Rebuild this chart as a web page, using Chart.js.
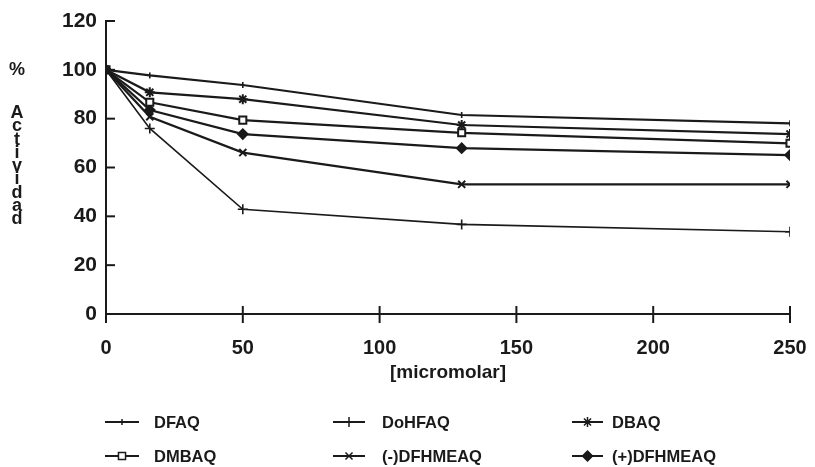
<!DOCTYPE html>
<html>
<head>
<meta charset="utf-8">
<script src="https://cdn.jsdelivr.net/npm/chart.js@4.4.0/dist/chart.umd.min.js"></script>
<style>
    html, body { margin: 0; padding: 0; background: #fff; }
    #wrap { width: 815px; height: 467px; position: relative; }
</style>
</head>
<body>
<div id="wrap"><canvas id="actividadChart"></canvas></div>
<script>
// % Actividad vs [micromolar]

const concentrations = [0, 16, 50, 130, 250];
const dfaq = [100, 97.7, 93.8, 81.5, 78.1];
const dohfaq = [100, 76.0, 42.9, 36.7, 33.7];
const dbaq = [100, 90.8, 88.0, 77.4, 73.7];
const dmbaq = [100, 86.7, 79.4, 74.2, 69.9];
const minusDfhmeaq = [100, 80.8, 66.1, 53.1, 53.1];
const plusDfhmeaq = [100, 83.5, 73.7, 67.9, 65.1];

const seriesNames = ['DFAQ', 'DoHFAQ', 'DBAQ', 'DMBAQ', '(-)DFHMEAQ', '(+)DFHMEAQ'];
const xTicks = [0, 50, 100, 150, 200, 250];
const yTicks = [0, 20, 40, 60, 80, 100, 120];

(function() {
    'use strict';

    const ink = '#1a1a1a';
    const fontFamily = '"Liberation Sans", Arial, Helvetica, sans-serif';

    function toPoints(values) {
        return values.map((v, i) => ({ x: concentrations[i], y: v }));
    }

    function series(label, values, style) {
        return Object.assign({
            label: label,
            data: toPoints(values),
            borderColor: ink,
            backgroundColor: ink,
            borderWidth: 2.2,
            pointBorderColor: ink,
            pointBackgroundColor: ink,
            pointBorderWidth: 1.6,
            pointRadius: 5,
            tension: 0,
            fill: false
        }, style);
    }

    const datasets = [
        series(seriesNames[0], dfaq, { pointStyle: 'line', rotation: 90, pointRadius: 3 }),
        series(seriesNames[1], dohfaq, { pointStyle: 'cross', borderWidth: 1.6, pointRadius: 5 }),
        series(seriesNames[2], dbaq, { pointStyle: 'star', pointRadius: 5, pointBorderWidth: 2 }),
        series(seriesNames[3], dmbaq, { pointStyle: 'rect', pointRadius: 5, pointBackgroundColor: '#fff', pointBorderWidth: 2 }),
        series(seriesNames[4], minusDfhmeaq, { pointStyle: 'crossRot', pointRadius: 5, pointBorderWidth: 2 }),
        series(seriesNames[5], plusDfhmeaq, { pointStyle: 'rectRot', pointRadius: 5 })
    ];

    // Legend layout: 3 columns x 2 rows under the axis
    const legendCols = [{ sx: 105, ex: 139, tx: 154 }, { sx: 333, ex: 365, tx: 382 }, { sx: 572, ex: 603, tx: 612 }];
    const legendRows = [422, 456];

    const decorPlugin = {
        id: 'decor',
        afterDraw(chart) {
            const ctx = chart.ctx;
            const xs = chart.scales.x;
            const ys = chart.scales.y;
            ctx.save();
            ctx.strokeStyle = ink;
            ctx.fillStyle = ink;
            ctx.lineWidth = 2;

            // y ticks point into the plot
            ys.ticks.forEach(t => {
                const py = ys.getPixelForValue(t.value);
                ctx.beginPath();
                ctx.moveTo(xs.left, py);
                ctx.lineTo(xs.left + 9, py);
                ctx.stroke();
            });
            // x ticks cross the axis
            xs.ticks.forEach(t => {
                const px = xs.getPixelForValue(t.value);
                ctx.beginPath();
                ctx.moveTo(px, ys.bottom - 8);
                ctx.lineTo(px, ys.bottom + 9);
                ctx.stroke();
            });

            // y title, stacked letters
            ctx.textAlign = 'center';
            ctx.textBaseline = 'middle';
            ctx.font = 'bold 18px ' + fontFamily;
            ctx.fillText('%', 17, 70);
            const word = 'Actividad';
            for (let i = 0; i < word.length; i++) {
                ctx.fillText(word[i], 17, 113 + i * 13.3);
            }

            // x title
            ctx.font = 'bold 19px ' + fontFamily;
            ctx.fillText('[micromolar]', (xs.left + xs.right) / 2, 373);

            // legend
            ctx.font = 'bold 16.5px ' + fontFamily;
            ctx.textAlign = 'left';
            datasets.forEach((ds, i) => {
                const col = legendCols[i % 3];
                const yy = legendRows[Math.floor(i / 3)];
                ctx.lineWidth = 2;
                ctx.strokeStyle = ink;
                ctx.beginPath();
                ctx.moveTo(col.sx, yy);
                ctx.lineTo(col.ex, yy);
                ctx.stroke();
                ctx.fillStyle = ds.pointBackgroundColor;
                ctx.strokeStyle = ink;
                ctx.lineWidth = 1.5;
                Chart.helpers.drawPoint(ctx, {
                    pointStyle: ds.pointStyle,
                    rotation: ds.rotation || 0,
                    radius: ds.pointStyle === 'line' ? 3 : 5,
                    borderWidth: 1.5
                }, (col.sx + col.ex) / 2, yy);
                ctx.fillStyle = ink;
                ctx.fillText(ds.label, col.tx, yy + 1);
            });
            ctx.restore();
        }
    };

    new Chart(document.getElementById('actividadChart'), {
        type: 'line',
        data: { datasets: datasets },
        options: {
            responsive: true,
            maintainAspectRatio: false,
            animation: false,
            layout: { padding: { top: 21, right: 25, left: 0, bottom: 0 } },
            plugins: {
                legend: { display: false },
                tooltip: { enabled: false }
            },
            scales: {
                x: {
                    type: 'linear',
                    min: 0,
                    max: 250,
                    afterBuildTicks: scale => { scale.ticks = xTicks.map(v => ({ value: v })); },
                    afterFit: scale => {
                        scale.height = 467 - 314;
                        scale.paddingLeft = 0;
                        scale.paddingRight = 0;
                    },
                    grid: { display: true, drawOnChartArea: false, drawTicks: false },
                    border: { display: true, color: ink, width: 2 },
                    ticks: {
                        color: ink,
                        padding: 22,
                        maxRotation: 0,
                        font: { family: fontFamily, size: 20, weight: 'bold' }
                    }
                },
                y: {
                    min: 0,
                    max: 120,
                    afterBuildTicks: scale => { scale.ticks = yTicks.map(v => ({ value: v })); },
                    afterFit: scale => {
                        scale.width = 106;
                        scale.paddingTop = 0;
                        scale.paddingBottom = 0;
                    },
                    grid: { display: true, drawOnChartArea: false, drawTicks: false },
                    border: { display: true, color: ink, width: 2 },
                    ticks: {
                        color: ink,
                        padding: 9,
                        font: { family: fontFamily, size: 21, weight: 'bold' }
                    }
                }
            }
        },
        plugins: [decorPlugin]
    });
})();
</script>
</body>
</html>
